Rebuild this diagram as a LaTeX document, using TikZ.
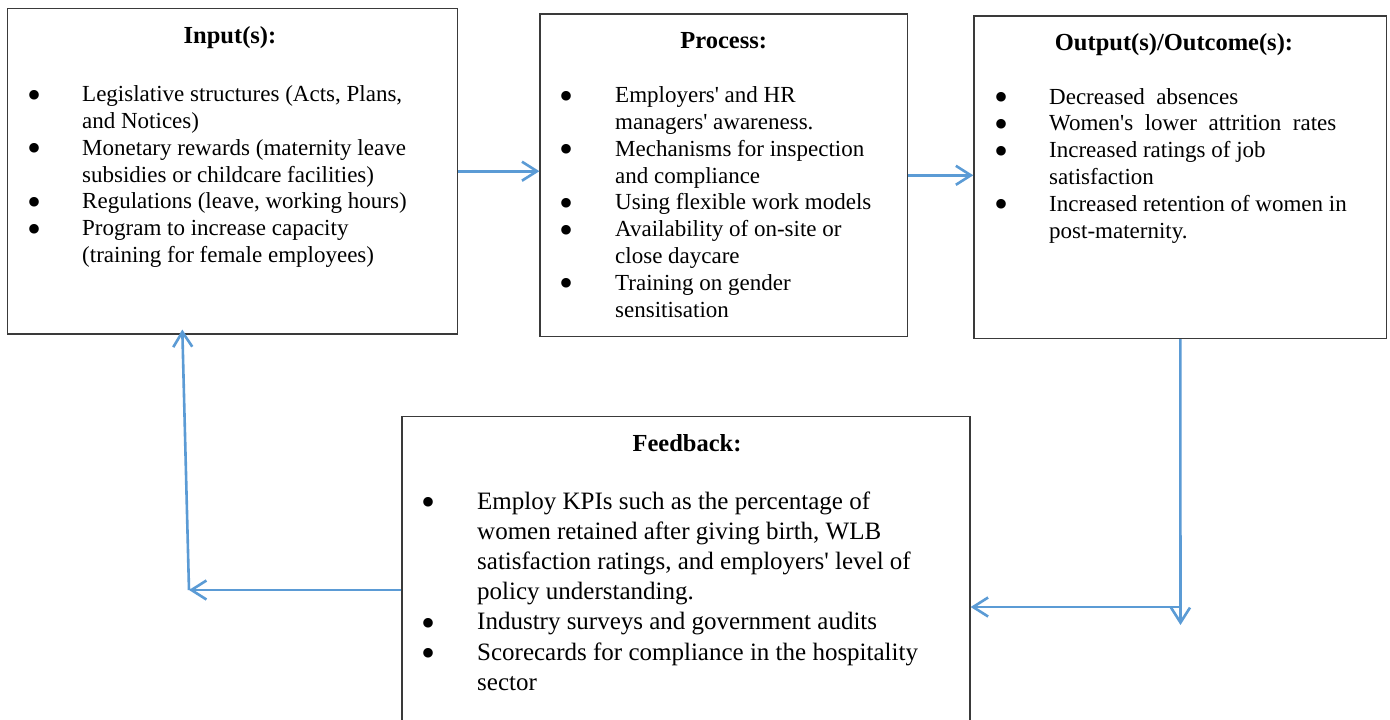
\documentclass[tikz,border=0pt]{standalone}
\usepackage{fontspec}
\setmainfont{Liberation Serif}
\usetikzlibrary{arrows.meta}
\definecolor{arrblue}{HTML}{5B9BD5}
\definecolor{boxline}{HTML}{3A3A3A}
\newcommand{\bl}{\smash{\raisebox{-6.5pt}{\fontsize{40}{40}\selectfont\textbullet}}}
\newcommand{\ap}{\textquotesingle}
\begin{document}
\begin{tikzpicture}[x=1pt,y=-1pt,
  box/.style={draw=boxline, line width=1.3pt, inner sep=0pt},
  title/.style={font=\bfseries\fontsize{24.5}{28}\selectfont, anchor=base, inner sep=0pt},
  list/.style={font=\fontsize{23}{26.8}\selectfont, inner sep=0pt, anchor=base west},
  flist/.style={font=\fontsize{25}{30.2}\selectfont, inner sep=0pt, anchor=base west},
  arr/.style={draw=arrblue, line width=2.6pt, -{Straight Barb[length=15pt,width=19pt]}}]
\useasboundingbox (0,0) rectangle (1390,720);
\fill[white] (0,0) rectangle (1390,720);
% boxes
\node[box, minimum width=450pt, minimum height=325.7pt] (in) at (232.3,171.2) {};
\node[box, minimum width=367.3pt, minimum height=322.7pt] (proc) at (723.7,175.3) {};
\node[box, minimum width=412.7pt, minimum height=322.3pt] (out) at (1180.3,177.2) {};
\node[box, minimum width=568pt, minimum height=323.3pt] (fb) at (686,578.3) {};
% titles
\node[title] (tin) at (230,43.3) {Input(s):};
\node[title] (tproc) at (723.7,48) {Process:};
\node[title] (tout) at (1174,50) {Output(s)/Outcome(s):};
\node[title] (tfb) at (687,451) {Feedback:};
% lists
\node[list] (lin) at (27,101.7) {\begin{tabular}[t]{@{}p{55pt}@{}l@{}}
\bl & Legislative structures (Acts, Plans,\\
 & and Notices)\\
\bl & Monetary rewards (maternity leave\\
 & subsidies or childcare facilities)\\
\bl & Regulations (leave, working hours)\\
\bl & Program to increase capacity\\
 & (training for female employees)
\end{tabular}};
\node[list] (lproc) at (559,102.7) {\begin{tabular}[t]{@{}p{56pt}@{}l@{}}
\bl & Employers\ap{} and HR\\
 & managers\ap{} awareness.\\
\bl & Mechanisms for inspection\\
 & and compliance\\
\bl & Using flexible work models\\
\bl & Availability of on-site or\\
 & close daycare\\
\bl & Training on gender\\
 & sensitisation
\end{tabular}};
\node[list] (lout) at (994,104) {\begin{tabular}[t]{@{}p{55pt}@{}l@{}}
\bl & Decreased\ \ absences\\
\bl & Women\ap s\ \ lower\ \ attrition\ \ rates\\
\bl & Increased ratings of job\\
 & satisfaction\\
\bl & Increased retention of women in\\
 & post-maternity.
\end{tabular}};
\node[flist] (lfb) at (421,509) {\begin{tabular}[t]{@{}p{56pt}@{}l@{}}
\bl & Employ KPIs such as the percentage of\\
 & women retained after giving birth, WLB\\
 & satisfaction ratings, and employers\ap{} level of\\
 & policy understanding.\\
\bl & Industry surveys and government audits\\
\bl & Scorecards for compliance in the hospitality\\
 & sector
\end{tabular}};
% connectors
\coordinate (c1) at (1180.5,625);
\coordinate (j) at (1180.5,607);
\coordinate (c2) at (189,590);
\coordinate (c3) at (182.3,329.5);
\draw[arr] (in.east) -- (in.east -| proc.west);
\draw[arr] (proc.east) -- (proc.east -| out.west);
\draw[arr] (out.south) -- (c1);
\draw[arr] (j) -- (j -| fb.east);
\draw[arr] (fb.west |- c2) -- (c2);
\draw[arr] (c2) -- (c3);
\end{tikzpicture}
\end{document}
